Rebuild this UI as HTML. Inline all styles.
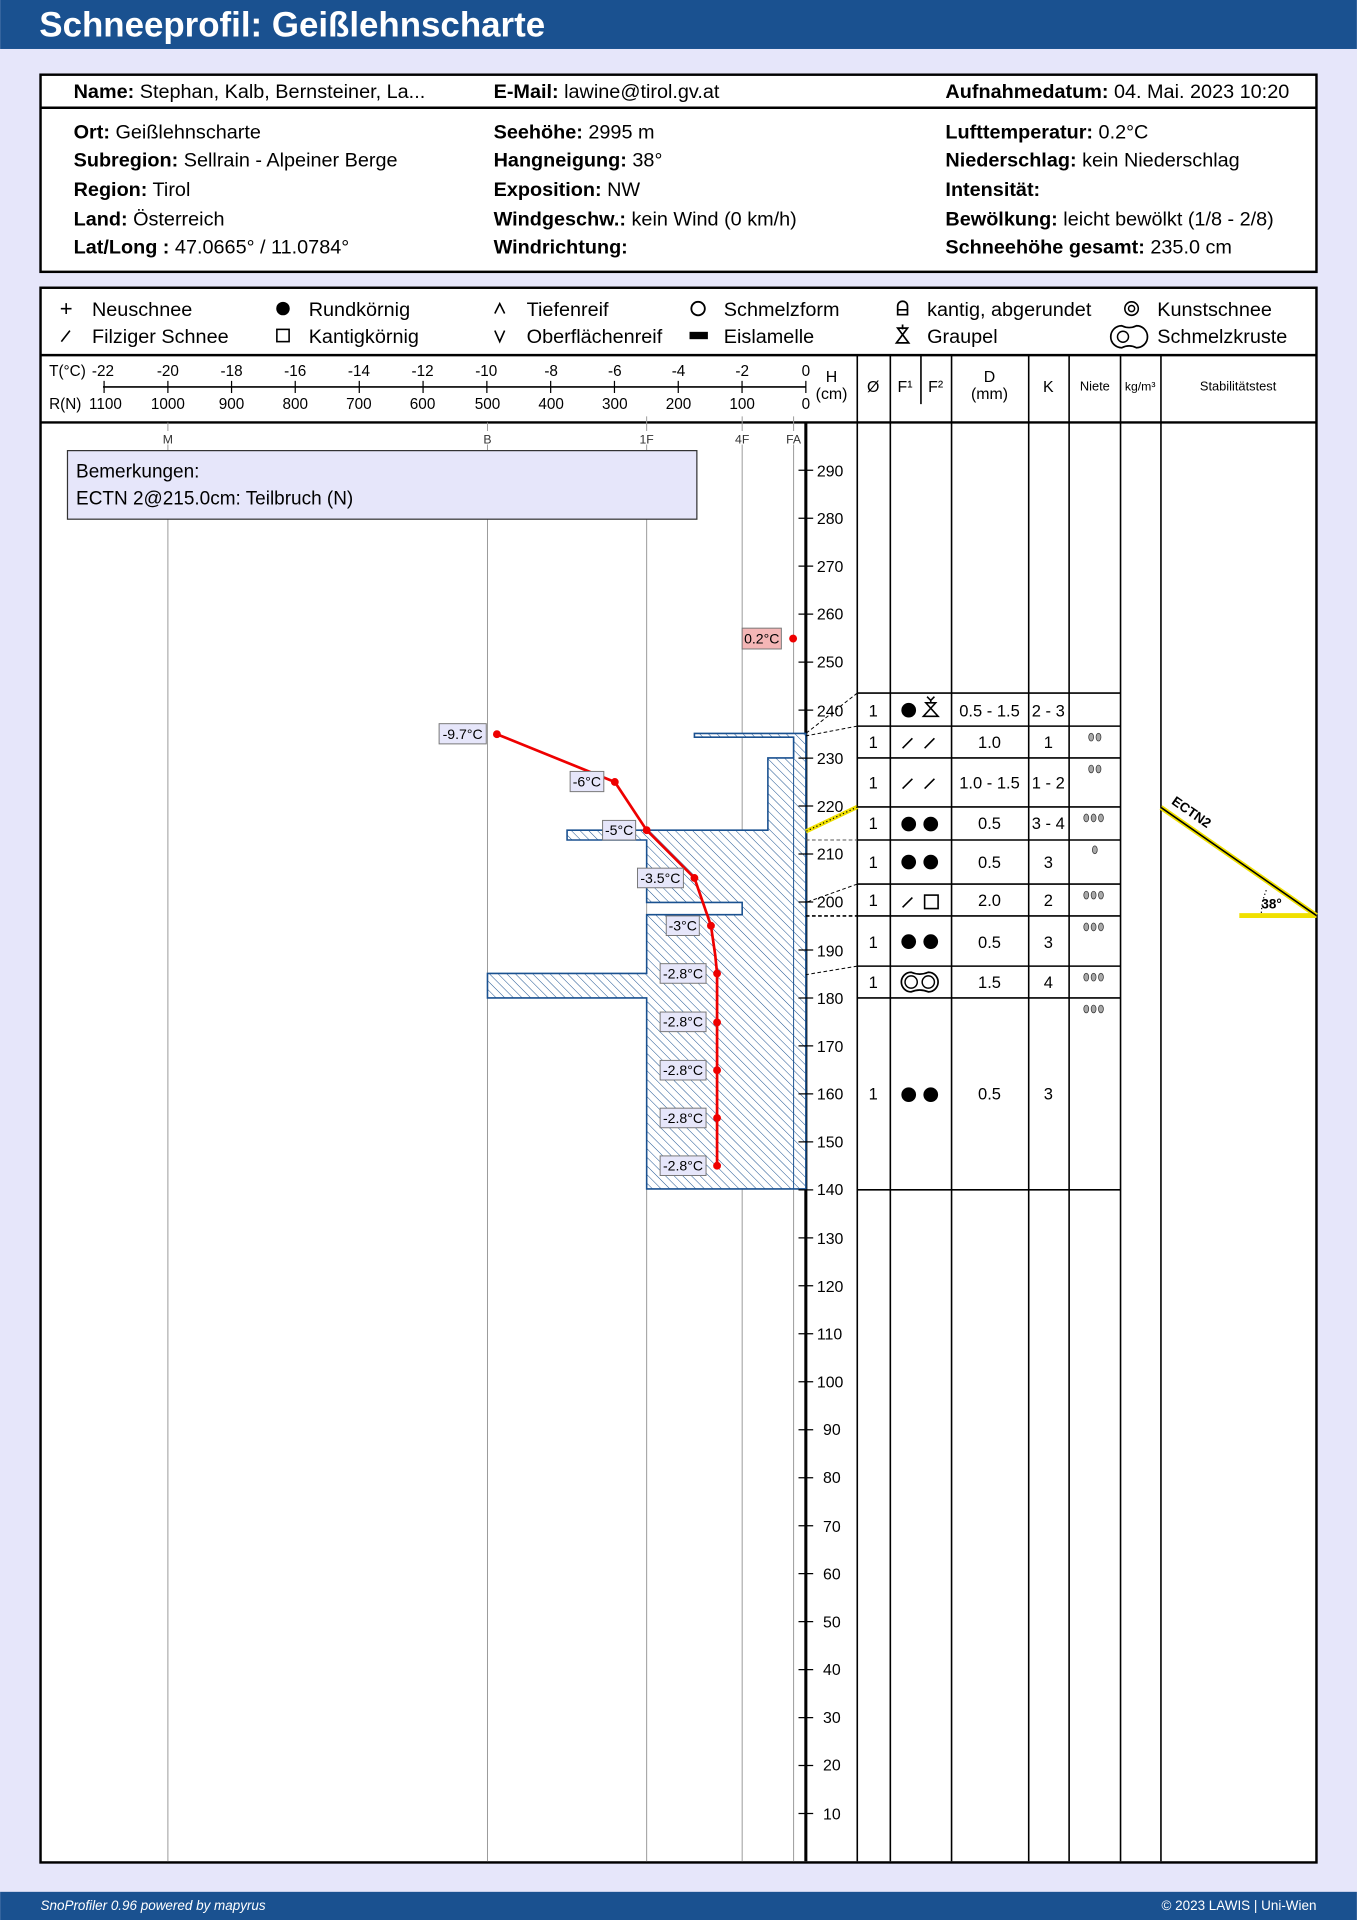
<!DOCTYPE html>
<html><head><meta charset="utf-8"><style>
html,body{margin:0;padding:0;background:#e6e6fa;}
svg{display:block;font-family:"Liberation Sans",sans-serif;}
</style></head><body>
<svg width="1357" height="1920" viewBox="0 0 1108 1568" xmlns="http://www.w3.org/2000/svg">
<defs>
<pattern id="h" width="5" height="5" patternUnits="userSpaceOnUse" patternTransform="rotate(-45)">
<rect width="5" height="5" fill="#fff"/><line x1="0" y1="0" x2="0" y2="5" stroke="#1a5190" stroke-width="0.8"/>
</pattern>
</defs>
<rect width="1108" height="1568" fill="#e6e6fa"/>
<rect width="1108" height="40" fill="#1a5190"/>
<text x="32" y="30" font-size="28.5" font-weight="bold" fill="#fff">Schneeprofil: Geißlehnscharte</text>
<rect y="1545" width="1108" height="23" fill="#1a5190"/>
<text x="33" y="1560" font-size="11" font-style="italic" fill="#fff">SnoProfiler 0.96 powered by mapyrus</text>
<text x="1075" y="1560" font-size="11" fill="#fff" text-anchor="end">© 2023 LAWIS | Uni-Wien</text>

<!-- info box -->
<rect x="33" y="61" width="1042" height="161" fill="#fff" stroke="#000" stroke-width="2"/>
<line x1="33" y1="88" x2="1075" y2="88" stroke="#000" stroke-width="2"/>
<g font-size="16.2" fill="#000" xml:space="preserve">
<text x="60" y="80"><tspan font-weight="bold">Name:</tspan>  Stephan, Kalb, Bernsteiner, La...</text>
<text x="403" y="80"><tspan font-weight="bold">E-Mail:</tspan>  lawine@tirol.gv.at</text>
<text x="772" y="80"><tspan font-weight="bold">Aufnahmedatum:</tspan>  04. Mai. 2023 10:20</text>
<text x="60" y="113"><tspan font-weight="bold">Ort:</tspan>  Geißlehnscharte</text>
<text x="60" y="136"><tspan font-weight="bold">Subregion:</tspan>  Sellrain - Alpeiner Berge</text>
<text x="60" y="160"><tspan font-weight="bold">Region:</tspan>  Tirol</text>
<text x="60" y="184"><tspan font-weight="bold">Land:</tspan>  Österreich</text>
<text x="60" y="207"><tspan font-weight="bold">Lat/Long :</tspan>  47.0665° / 11.0784°</text>
<text x="403" y="113"><tspan font-weight="bold">Seehöhe:</tspan>  2995 m</text>
<text x="403" y="136"><tspan font-weight="bold">Hangneigung:</tspan>  38°</text>
<text x="403" y="160"><tspan font-weight="bold">Exposition:</tspan>  NW</text>
<text x="403" y="184"><tspan font-weight="bold">Windgeschw.:</tspan>  kein Wind (0 km/h)</text>
<text x="403" y="207"><tspan font-weight="bold">Windrichtung:</tspan></text>
<text x="772" y="113"><tspan font-weight="bold">Lufttemperatur:</tspan>  0.2°C</text>
<text x="772" y="136"><tspan font-weight="bold">Niederschlag:</tspan>  kein Niederschlag</text>
<text x="772" y="160"><tspan font-weight="bold">Intensität:</tspan></text>
<text x="772" y="184"><tspan font-weight="bold">Bewölkung:</tspan>  leicht bewölkt (1/8 - 2/8)</text>
<text x="772" y="207"><tspan font-weight="bold">Schneehöhe gesamt:</tspan>  235.0 cm</text>
</g>

<!-- main box -->
<rect x="33" y="235" width="1042" height="1286" fill="#fff" stroke="#000" stroke-width="2"/>
<line x1="33" y1="290" x2="1075" y2="290" stroke="#000" stroke-width="2"/>
<line x1="33" y1="345" x2="1075" y2="345" stroke="#000" stroke-width="2"/>

<!-- legend -->
<g font-size="16.2">
<text x="54" y="258" text-anchor="middle" font-size="18">+</text>
<line x1="50" y1="279" x2="57" y2="270" stroke="#000" stroke-width="1.3"/>
<text x="75" y="258">Neuschnee</text><text x="75" y="280">Filziger Schnee</text>
<circle cx="231" cy="252" r="5.5"/>
<rect x="226" y="269" width="10" height="10" fill="none" stroke="#000" stroke-width="1.3"/>
<text x="252" y="258">Rundkörnig</text><text x="252" y="280">Kantigkörnig</text>
<path d="M404 256 L408 248 L412 256" fill="none" stroke="#000" stroke-width="1.3"/>
<path d="M404 270 L408 279 L412 270" fill="none" stroke="#000" stroke-width="1.3"/>
<text x="430" y="258">Tiefenreif</text><text x="430" y="280">Oberflächenreif</text>
<circle cx="570" cy="252" r="5.5" fill="none" stroke="#000" stroke-width="1.5"/>
<rect x="563" y="271" width="15" height="6"/>
<text x="591" y="258">Schmelzform</text><text x="591" y="280">Eislamelle</text>
<path d="M733 257 V250 A4 4 0 0 1 741 250 V257 Z M733 253 H741" fill="none" stroke="#000" stroke-width="1.4"/>
<path d="M732 280 H742 L733 268 H741 Z M737 265 V269" fill="none" stroke="#000" stroke-width="1.4"/>
<text x="757" y="258">kantig, abgerundet</text><text x="757" y="280">Graupel</text>
<circle cx="924" cy="252" r="5.5" fill="none" stroke="#000" stroke-width="1.3"/><circle cx="924" cy="252" r="2.5" fill="none" stroke="#000" stroke-width="1.2"/>
<path d="M916 266 A9 9 0 1 0 916 284 Q922 281 928 284 A9 9 0 1 0 928 266 Q922 269 916 266 Z" fill="none" stroke="#000" stroke-width="1.4"/>
<circle cx="917" cy="275" r="4.5" fill="none" stroke="#000" stroke-width="1.2"/>
<text x="945" y="258">Kunstschnee</text><text x="945" y="280">Schmelzkruste</text>
</g>

<!-- axis header -->
<g font-size="12.5" text-anchor="middle">
<text x="40" y="307" text-anchor="start">T(°C)</text>
<text x="84" y="307">-22</text><text x="137" y="307">-20</text><text x="189" y="307">-18</text><text x="241" y="307">-16</text><text x="293" y="307">-14</text><text x="345" y="307">-12</text><text x="397" y="307">-10</text><text x="450" y="307">-8</text><text x="502" y="307">-6</text><text x="554" y="307">-4</text><text x="606" y="307">-2</text><text x="658" y="307">0</text>
<text x="40" y="334" text-anchor="start">R(N)</text>
<text x="86" y="334">1100</text><text x="137" y="334">1000</text><text x="189" y="334">900</text><text x="241" y="334">800</text><text x="293" y="334">700</text><text x="345" y="334">600</text><text x="398" y="334">500</text><text x="450" y="334">400</text><text x="502" y="334">300</text><text x="554" y="334">200</text><text x="606" y="334">100</text><text x="658" y="334">0</text>
</g>
<line x1="84" y1="316" x2="658" y2="316" stroke="#000" stroke-width="1.3"/>
<g stroke="#000" stroke-width="1">
<path d="M84.9 311V321M137 311V321M189 311V321M241 311V321M293.3 311V321M345.4 311V321M397.5 311V321M449.6 311V321M501.7 311V321M553.8 311V321M605.9 311V321M658 311V321"/>
</g>
<g stroke="#999" stroke-width="0.8">
<path d="M137 345V352M398 345V352M528 340V352M606 340V352M648 340V352"/>
<path d="M137 363V1520M398 363V1520M528 363V1520M606 363V1520M648 363V1520"/>
</g>
<g font-size="10" text-anchor="middle" fill="#333">
<text x="137" y="362">M</text><text x="398" y="362">B</text><text x="528" y="362">1F</text><text x="606" y="362">4F</text><text x="648" y="362">FA</text>
</g>

<!-- column lines -->
<g stroke="#000" stroke-width="1.3">
<line x1="658" y1="345" x2="658" y2="1520" stroke-width="2.5"/>
<path d="M700 290V1520M727 290V1520M777 290V1520M840 290V1520M873 290V1520M915 290V1520M948 290V1520M752 290V330"/>
</g>
<g font-size="13" text-anchor="middle">
<text x="679" y="312">H</text><text x="679" y="326">(cm)</text>
<text x="713" y="320">Ø</text>
<text x="739" y="320">F¹</text><text x="764" y="320">F²</text>
<text x="808" y="312">D</text><text x="808" y="326">(mm)</text>
<text x="856" y="320">K</text>
<text x="894" y="319" font-size="10.5">Niete</text>
<text x="931" y="319" font-size="10">kg/m³</text>
<text x="1011" y="319" font-size="10.5">Stabilitätstest</text>
</g>

<!-- remarks -->
<rect x="55" y="368" width="514" height="56" fill="#e6e6fa" stroke="#333" stroke-width="1"/>
<text x="62" y="390" font-size="15.5">Bemerkungen:</text>
<text x="62" y="412" font-size="15.5">ECTN 2@215.0cm: Teilbruch (N)</text>

<!-- hardness -->
<path d="M567 599H658V971H528V815H398V795H528V747H606V737H528V686H463V678H627V619H648V602H567Z" fill="url(#h)" stroke="#1a5190" stroke-width="1.3"/>
<path d="M648 602V971M528 737H606" stroke="#1a5190" stroke-width="0.8" fill="none"/>

<!-- H ticks -->
<g stroke="#000" stroke-width="1"><path d="M652 384H664M652 423.2H664M652 462.3H664M652 501.5H664M652 540.7H664M652 579.9H664M652 619.1H664M652 658.2H664M652 697.4H664M652 736.6H664M652 775.8H664M652 815H664M652 854.1H664M652 893.3H664M652 932.5H664M652 971.7H664M652 1010.9H664M652 1050H664M652 1089.2H664M652 1128.4H664M652 1167.6H664M652 1206.8H664M652 1246H664M652 1285.1H664M652 1324.3H664M652 1363.5H664M652 1402.7H664M652 1441.8H664M652 1481H664"/></g>
<g font-size="13">
<text x="667" y="389">290</text><text x="667" y="428">280</text><text x="667" y="467">270</text><text x="667" y="506">260</text><text x="667" y="545">250</text><text x="667" y="585">240</text><text x="667" y="624">230</text><text x="667" y="663">220</text><text x="667" y="702">210</text><text x="667" y="741">200</text><text x="667" y="781">190</text><text x="667" y="820">180</text><text x="667" y="859">170</text><text x="667" y="898">160</text><text x="667" y="937">150</text><text x="667" y="976">140</text><text x="667" y="1016">130</text><text x="667" y="1055">120</text><text x="667" y="1094">110</text><text x="667" y="1133">100</text><text x="672" y="1172">90</text><text x="672" y="1211">80</text><text x="672" y="1251">70</text><text x="672" y="1290">60</text><text x="672" y="1329">50</text><text x="672" y="1368">40</text><text x="672" y="1407">30</text><text x="672" y="1446">20</text><text x="672" y="1486">10</text>
</g>

<!-- connectors -->
<g stroke="#000" stroke-width="0.8" stroke-dasharray="3,2" fill="none">
<path d="M700 566L658 599M700 593L658 601M700 722L658 737M700 789L658 796"/>
<path d="M658 686H700" stroke="#555"/>
<path d="M658 748H700" stroke-width="1.3"/>
</g>
<path d="M700 659L658 679" stroke="#f0e000" stroke-width="3.5"/>
<path d="M700 659L658 679" stroke="#000" stroke-width="1" stroke-dasharray="1,2"/>

<!-- table rows -->
<g stroke="#000" stroke-width="1.3"><path d="M700 566H915M700 593H915M700 619H915M700 659H915M700 686H915M700 722H915M700 748H915M700 789H915M700 815H915M700 971.7H915"/></g>
<g font-size="13.5" text-anchor="middle">
<text x="713" y="585">1</text><text x="808" y="585">0.5 - 1.5</text><text x="856" y="585">2 - 3</text>
<text x="713" y="611">1</text><text x="808" y="611">1.0</text><text x="856" y="611">1</text>
<text x="713" y="644">1</text><text x="808" y="644">1.0 - 1.5</text><text x="856" y="644">1 - 2</text>
<text x="713" y="677">1</text><text x="808" y="677">0.5</text><text x="856" y="677">3 - 4</text>
<text x="713" y="709">1</text><text x="808" y="709">0.5</text><text x="856" y="709">3</text>
<text x="713" y="740">1</text><text x="808" y="740">2.0</text><text x="856" y="740">2</text>
<text x="713" y="774">1</text><text x="808" y="774">0.5</text><text x="856" y="774">3</text>
<text x="713" y="807">1</text><text x="808" y="807">1.5</text><text x="856" y="807">4</text>
<text x="713" y="898">1</text><text x="808" y="898">0.5</text><text x="856" y="898">3</text>
</g>
<g>
<circle cx="742" cy="580" r="6"/>
<path d="M754 585H766L756 574H764Z M760 571V574 M757 569L760 572L763 569" fill="none" stroke="#000" stroke-width="1.3"/>
<path d="M737 611L745 603M755 611L763 603M737 644L745 636M755 644L763 636M737 741L745 733" stroke="#000" stroke-width="1.3"/>
<rect x="755" y="731" width="11" height="11" fill="none" stroke="#000" stroke-width="1.3"/>
<circle cx="742" cy="673" r="6"/><circle cx="760" cy="673" r="6"/>
<circle cx="742" cy="704" r="6"/><circle cx="760" cy="704" r="6"/>
<circle cx="742" cy="769" r="6"/><circle cx="760" cy="769" r="6"/>
<circle cx="742" cy="894" r="6"/><circle cx="760" cy="894" r="6"/>
<path d="M744 794 A8 8 0 1 0 744 810 Q751 807 758 810 A8 8 0 1 0 758 794 Q751 797 744 794 Z" fill="none" stroke="#000" stroke-width="1.4"/>
<circle cx="744" cy="802" r="5" fill="none" stroke="#000" stroke-width="1.2"/><circle cx="758" cy="802" r="5" fill="none" stroke="#000" stroke-width="1.2"/>
</g>
<g fill="#aaa" stroke="#333" stroke-width="0.6">
<ellipse cx="891" cy="602" rx="2" ry="3.2"/><ellipse cx="897" cy="602" rx="2" ry="3.2"/>
<ellipse cx="891" cy="628" rx="2" ry="3.2"/><ellipse cx="897" cy="628" rx="2" ry="3.2"/>
<ellipse cx="887" cy="668" rx="2" ry="3.2"/><ellipse cx="893" cy="668" rx="2" ry="3.2"/><ellipse cx="899" cy="668" rx="2" ry="3.2"/>
<ellipse cx="894" cy="694" rx="2" ry="3.2"/>
<ellipse cx="887" cy="731" rx="2" ry="3.2"/><ellipse cx="893" cy="731" rx="2" ry="3.2"/><ellipse cx="899" cy="731" rx="2" ry="3.2"/>
<ellipse cx="887" cy="757" rx="2" ry="3.2"/><ellipse cx="893" cy="757" rx="2" ry="3.2"/><ellipse cx="899" cy="757" rx="2" ry="3.2"/>
<ellipse cx="887" cy="798" rx="2" ry="3.2"/><ellipse cx="893" cy="798" rx="2" ry="3.2"/><ellipse cx="899" cy="798" rx="2" ry="3.2"/>
<ellipse cx="887" cy="824" rx="2" ry="3.2"/><ellipse cx="893" cy="824" rx="2" ry="3.2"/><ellipse cx="899" cy="824" rx="2" ry="3.2"/>
</g>

<!-- stability test -->
<path d="M948 659.4L1075 747.7M1012 747.7H1075" stroke="#f0e000" stroke-width="4"/>
<path d="M948 659.4L1075 747.7" stroke="#000" stroke-width="1.3"/>
<path d="M1034 727 Q1030 737 1030 747" fill="none" stroke="#000" stroke-width="1" stroke-dasharray="1,2"/>
<text x="1030" y="742" font-size="11" font-weight="bold">38°</text>
<text x="0" y="0" font-size="11" font-weight="bold" transform="translate(956,656) rotate(34.8)">ECTN2</text>

<!-- temperatures -->
<polyline points="405.7,599.6 502,638.6 528,678 567,717 580.5,756 584,780 585.5,795 585.5,835 585.5,874 585.5,913 585.5,952" fill="none" stroke="#e00" stroke-width="2.2"/>
<g fill="#e00">
<circle cx="405.7" cy="599.6" r="3.2"/><circle cx="502" cy="638.6" r="3.2"/><circle cx="528" cy="678" r="3.2"/><circle cx="567" cy="717" r="3.2"/><circle cx="580.5" cy="756" r="3.2"/><circle cx="585.5" cy="795" r="3.2"/><circle cx="585.5" cy="835" r="3.2"/><circle cx="585.5" cy="874" r="3.2"/><circle cx="585.5" cy="913" r="3.2"/><circle cx="585.5" cy="952" r="3.2"/><circle cx="647.6" cy="521.5" r="3.2"/>
</g>
<g fill="#e6e6fa" stroke="#777" stroke-width="0.8">
<rect x="358.5" y="591" width="38.5" height="16.5"/>
<rect x="465.5" y="630" width="27.5" height="16.5"/>
<rect x="492" y="670" width="27" height="16"/>
<rect x="520.5" y="709" width="37.5" height="16"/>
<rect x="544" y="748" width="27" height="16"/>
<rect x="539" y="787" width="37.5" height="16"/>
<rect x="539" y="826.5" width="37.5" height="16"/>
<rect x="539" y="866" width="37.5" height="16"/>
<rect x="539" y="905" width="37.5" height="16"/>
<rect x="539" y="944" width="37.5" height="16"/>
<rect x="606" y="513" width="32" height="17" fill="#f4b6b6"/>
</g>
<g font-size="11.5" text-anchor="middle">
<text x="377.7" y="603.5">-9.7°C</text>
<text x="479.2" y="642.5">-6°C</text>
<text x="505.5" y="682">-5°C</text>
<text x="539.2" y="721">-3.5°C</text>
<text x="557.5" y="760">-3°C</text>
<text x="557.7" y="799">-2.8°C</text>
<text x="557.7" y="838.5">-2.8°C</text>
<text x="557.7" y="878">-2.8°C</text>
<text x="557.7" y="917">-2.8°C</text>
<text x="557.7" y="956">-2.8°C</text>
<text x="622" y="525.5">0.2°C</text>
</g>
</svg>
</body></html>
